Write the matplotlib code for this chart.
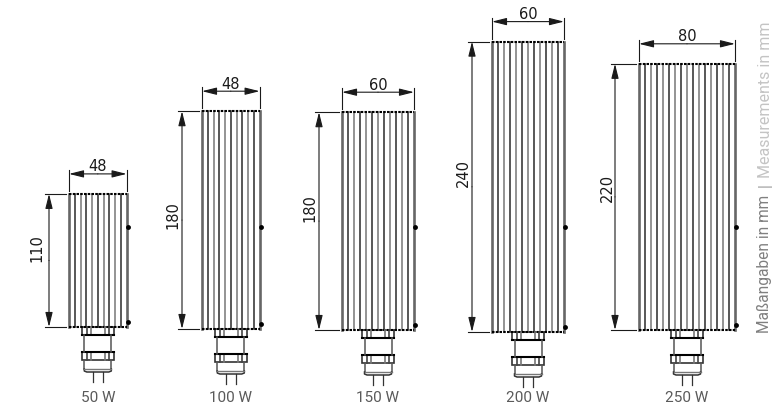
import matplotlib
matplotlib.use('Agg')
import matplotlib.pyplot as plt
from matplotlib.patches import Rectangle

labels = ['50 W', '100 W', '150 W', '200 W', '250 W']
widths_mm = [48, 48, 60, 60, 80]
heights_mm = [110, 180, 180, 240, 220]

# layout, in pixels of the 780x410 drawing
lefts = [69, 202, 342, 492, 639]
bottoms = [328, 330, 331, 333, 331]
dim_xs = [49, 182, 319, 472, 615]
height_text_xs = [37, 173, 310, 463, 607]
height_text_ys = [248, 215, 208, 173, 188]
W_SCALE = 1.2
H_SCALE = 1.21
BOLT_Y = 228
DARK = '#1a1a1a'
GREY = '#777777'
LABEL_FONT = ['Roboto', 'DejaVu Sans']
DIM_FONT = ['DejaVu Sans']

fig = plt.figure(figsize=(7.8, 4.1), dpi=100)
ax = fig.add_axes([0, 0, 1, 1])
ax.set_xlim(0, 780)
ax.set_ylim(410, 0)
ax.axis('off')


def arrow(x0, y0, x1, y1):
    ax.annotate('', xy=(x1, y1), xytext=(x0, y0),
                arrowprops=dict(arrowstyle='-|>,head_length=0.8,head_width=0.2', color=DARK,
                                lw=0.8, mutation_scale=11, shrinkA=0, shrinkB=0))


def heater(left, bottom, w_mm, h_mm, label, dim_x, text_x, text_y):
    w = w_mm * W_SCALE
    h = h_mm * H_SCALE
    top = bottom - h
    right = left + w
    cx = left + w / 2

    # ribs of the body
    n = round(w / 6)
    for i in range(1, n):
        x = left + i * w / n
        ax.plot([x, x], [top, bottom], color=GREY if i % 2 == 0 else '#2a2a2a', lw=1.1)
    ax.plot([left, left], [top, bottom], color='#666666', lw=1.9)
    ax.plot([right, right], [top, bottom], color='#666666', lw=1.9)
    ax.plot([left, right], [top, top], color='black', lw=1.5, ls=(0, (1.2, 0.6)))
    ax.plot([left, right], [bottom, bottom], color='black', lw=1.5, ls=(0, (1.2, 0.6)))

    # bolts on the right side
    ax.plot([right + 1], [BOLT_Y], marker='o', ms=3.5, color='black', mew=0)
    ax.plot([right + 1], [bottom - 5], marker='o', ms=3.5, color='black', mew=0)

    # cable gland below
    for y0, hh, cw in [(0, 7.5, 32), (24.5, 8.5, 32)]:
        ax.add_patch(Rectangle((cx - cw / 2, bottom + y0), cw, hh, fill=False, ec='#333333', lw=1.2))
        ax.plot([cx - 11, cx - 11], [bottom + y0, bottom + y0 + hh], color='#444444', lw=1.2)
        ax.plot([cx - 7, cx - 7], [bottom + y0, bottom + y0 + hh], color='#777777', lw=1.2)
        ax.plot([cx + 7, cx + 7], [bottom + y0, bottom + y0 + hh], color='#777777', lw=1.2)
        ax.plot([cx + 11, cx + 11], [bottom + y0, bottom + y0 + hh], color='#444444', lw=1.2)
    ax.plot([cx - 16, cx + 16], [bottom + 7.5, bottom + 7.5], color='black', lw=1.5)
    ax.plot([cx - 16, cx + 16], [bottom + 24.5, bottom + 24.5], color='black', lw=1.5)
    for y0, y1 in [(7.5, 24.5), (33, 42)]:
        ax.plot([cx - 13.5, cx - 13.5], [bottom + y0, bottom + y1], color='#555555', lw=1.1)
        ax.plot([cx + 13.5, cx + 13.5], [bottom + y0, bottom + y1], color='#555555', lw=1.1)
    ax.plot([cx - 13.5, cx - 13.5, cx - 11, cx + 11, cx + 13.5, cx + 13.5],
            [bottom + 42, bottom + 44, bottom + 45, bottom + 45, bottom + 44, bottom + 42],
            color='#333333', lw=1.1)
    ax.plot([cx - 13.5, cx + 13.5], [bottom + 42, bottom + 42], color='#777777', lw=1.0)
    ax.plot([cx - 5, cx - 5], [bottom + 45, bottom + 55], color='#333333', lw=0.9)
    ax.plot([cx + 5, cx + 5], [bottom + 45, bottom + 55], color='#333333', lw=0.9)
    ax.text(cx, 398, label, ha='center', va='center', fontsize=11, color='#5a5a5a',
            family=LABEL_FONT)

    # width dimension
    dim_y = top - 20
    ax.plot([left, left], [top - 24, top - 3], color=DARK, lw=0.8)
    ax.plot([right, right], [top - 24, top - 3], color=DARK, lw=0.8)
    arrow(cx, dim_y, left, dim_y)
    arrow(cx, dim_y, right, dim_y)
    ax.text(cx, dim_y - 8, str(w_mm), ha='center', va='center', fontsize=10.5, color=DARK,
            family=DIM_FONT)

    # height dimension
    ax.plot([dim_x - 4, left - 3], [top, top], color=DARK, lw=0.8)
    ax.plot([dim_x - 4, left - 3], [bottom, bottom], color=DARK, lw=0.8)
    arrow(dim_x, (top + bottom) / 2, dim_x, top)
    arrow(dim_x, (top + bottom) / 2, dim_x, bottom)
    ax.text(text_x, text_y, str(h_mm), rotation=90, ha='center', va='center',
            fontsize=10.5, color=DARK, family=DIM_FONT)


for i in range(len(labels)):
    heater(lefts[i], bottoms[i], widths_mm[i], heights_mm[i], labels[i],
           dim_xs[i], height_text_xs[i], height_text_ys[i])

ax.text(765, 333, 'Maßangaben in mm', rotation=90, ha='center', va='bottom', fontsize=11.2,
        color='#808080', family=LABEL_FONT)
ax.text(765, 185, '|', rotation=90, ha='center', va='center', fontsize=11.5, color='#999999',
        family=LABEL_FONT)
ax.text(765, 178, 'Measurements in mm', rotation=90, ha='center', va='bottom', fontsize=11.5,
        color='#c4c4c4', family=LABEL_FONT)

fig.savefig('out.png', dpi=100)
